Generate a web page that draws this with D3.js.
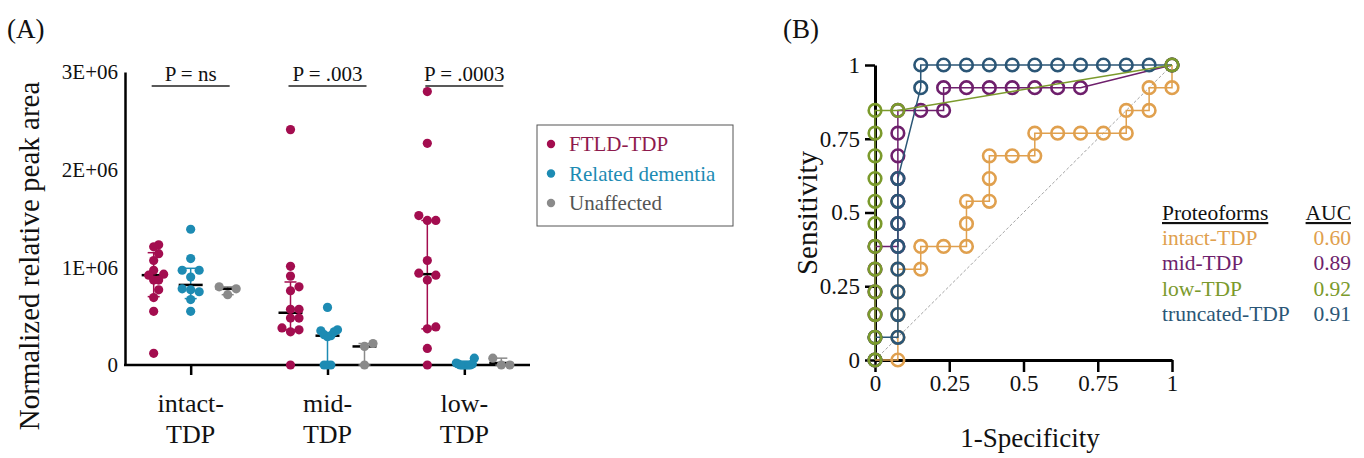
<!DOCTYPE html>
<html lang="en">
<head>
<meta charset="UTF-8">
<title>TDP proteoforms</title>
<script src="https://d3js.org/d3.v7.min.js"></script>
<style>
    body { margin: 0; background: #fff; }
    svg text { font-family: "Liberation Serif", "Times New Roman", serif; }
</style>
</head>
<body>
<svg id="chart" width="1364" height="458"></svg>
<script>
// ---- panel A data (normalized relative peak area) ----
const categories = ["intact", "mid", "low"];
const groups = ["FTLD-TDP", "Related dementia", "Unaffected"];
const groupColors = ["#a30d4f", "#1d8bb3", "#8a8a8a"];
const groupTextColors = ["#8e1a4d", "#1d8bb3", "#555555"];

const intactFtld = [1.23e6, 1.21e6, 1.14e6, 1.07e6, 0.97e6, 0.93e6, 0.92e6, 0.87e6, 0.87e6, 0.77e6, 0.69e6, 0.55e6, 0.12e6];
const intactRelated = [1.39e6, 1.09e6, 0.97e6, 0.97e6, 0.90e6, 0.78e6, 0.77e6, 0.75e6, 0.67e6, 0.55e6];
const intactUnaffected = [0.80e6, 0.78e6, 0.72e6];
const midFtld = [2.41e6, 1.01e6, 0.91e6, 0.80e6, 0.76e6, 0.57e6, 0.57e6, 0.48e6, 0.48e6, 0.38e6, 0.36e6, 0.34e6, 0];
const midRelated = [0.59e6, 0.36e6, 0.35e6, 0.34e6, 0.31e6, 0.30e6, 0.29e6, 0, 0, 0];
const midUnaffected = [0.22e6, 0.19e6, 0];
const lowFtld = [2.80e6, 2.27e6, 1.53e6, 1.48e6, 1.48e6, 1.07e6, 0.94e6, 0.92e6, 0.87e6, 0.39e6, 0.37e6, 0.17e6, 0];
const lowRelated = [0.07e6, 0.02e6, 0.01e6, 0.01e6, 0, 0, 0, 0, 0, 0];
const lowUnaffected = [0.07e6, 0, 0];

// median and interquartile range, same order as the columns
const medians = [0.92e6, 0.82e6, 0.78e6, 0.535e6, 0.30e6, 0.19e6, 0.93e6, 0.005e6, 0.02e6];
const q1s = [0.70e6, 0.68e6, 0.72e6, 0.36e6, 0, 0, 0.37e6, 0, 0];
const q3s = [1.15e6, 0.99e6, 0.80e6, 0.85e6, 0.33e6, 0.22e6, 1.48e6, 0.02e6, 0.07e6];

const pLabels = ["P = ns", "P = .003", "P = .0003"];
const yTicksA = [0, 1e6, 2e6, 3e6];

// ---- panel B data (ROC: 1-specificity, sensitivity) ----
const rocNames = ["intact-TDP", "mid-TDP", "low-TDP", "truncated-TDP"];
const rocAuc = ["0.60", "0.89", "0.92", "0.91"];
const rocColors = ["#e0a04e", "#6e1f6c", "#7b9a2c", "#2b5676"];

const intactFpr = [0, .077, .077, .077, .077, .077, .154, .154, .231, .308, .308, .308, .385, .385, .385, .462, .538, .538, .615, .692, .769, .846, .846, .923, .923, 1, 1];
const intactTpr = [0, 0, .077, .154, .231, .308, .308, .385, .385, .385, .462, .538, .538, .615, .692, .692, .692, .769, .769, .769, .769, .769, .846, .846, .923, .923, 1];
const midFpr = [0, 0, 0, 0, 0, 0, .077, .077, .077, .077, .077, .077, .077, .154, .231, .231, .308, .385, .462, .538, .615, .692, 1];
const midTpr = [0, .077, .154, .231, .308, .385, .385, .462, .538, .615, .692, .769, .846, .846, .846, .923, .923, .923, .923, .923, .923, .923, 1];
const lowFpr = [0, 0, 0, 0, 0, 0, 0, 0, 0, 0, 0, 0, .077, 1];
const lowTpr = [0, .077, .154, .231, .308, .385, .462, .538, .615, .692, .769, .846, .846, 1];
const truncFpr = [0, 0, .077, .077, .077, .077, .077, .077, .077, .077, .154, .154, .231, .308, .385, .462, .538, .615, .692, .769, .846, .923, 1];
const truncTpr = [0, .077, .077, .154, .231, .308, .385, .462, .538, .615, .923, 1, 1, 1, 1, 1, 1, 1, 1, 1, 1, 1, 1];
const rocTicks = [0, 0.25, 0.5, 0.75, 1];

const svg = d3.select("#chart");

// ================= panel A =================
const columns = [
    [intactFtld, intactRelated, intactUnaffected],
    [midFtld, midRelated, midUnaffected],
    [lowFtld, lowRelated, lowUnaffected]
];

const xA = d3.scalePoint().domain(categories).range([125, 530]).padding(0.48);
const groupOffset = d3.scalePoint().domain(groups).range([-37, 37]);
const yA = d3.scaleLinear().domain([0, 3e6]).range([365, 72]);

const gA = svg.append("g");

// y axis
gA.append("g")
    .attr("transform", "translate(125,0)")
    .call(d3.axisLeft(yA).tickValues(yTicksA).tickSize(0).tickSizeOuter(0).tickPadding(7)
        .tickFormat(d => d === 0 ? "0" : (d / 1e6) + "E+06"))
    .call(g => g.select(".domain").attr("stroke-width", 2.5))
    .selectAll("text")
    .style("font-size", "21px")
    .attr("fill", "#111");

// x axis
gA.append("g")
    .attr("transform", "translate(0,365)")
    .call(d3.axisBottom(xA).tickSize(10).tickSizeOuter(0).tickFormat(""))
    .call(g => g.select(".domain").attr("stroke-width", 2.5).attr("d", "M124,0H530"))
    .call(g => g.selectAll(".tick line").attr("stroke-width", 2.5));

categories.forEach(c => {
    const t = gA.append("text")
        .attr("x", xA(c))
        .attr("text-anchor", "middle")
        .style("font-size", "26px")
        .attr("fill", "#111");
    t.append("tspan").attr("x", xA(c)).attr("y", 412).text(c + "-");
    t.append("tspan").attr("x", xA(c)).attr("y", 443).text("TDP");
});

gA.append("text")
    .attr("transform", "translate(39,256) rotate(-90)")
    .attr("text-anchor", "middle")
    .style("font-size", "29px")
    .attr("fill", "#111")
    .text("Normalized relative peak area");

// significance bars
categories.forEach((c, i) => {
    const x0 = xA(c) + groupOffset(groups[0]) - 2;
    const x1 = xA(c) + groupOffset(groups[2]) + 2;
    gA.append("line")
        .attr("x1", x0).attr("x2", x1)
        .attr("y1", 86).attr("y2", 86)
        .attr("stroke", "#222").attr("stroke-width", 1.5);
    gA.append("text")
        .attr("x", (x0 + x1) / 2).attr("y", 81)
        .attr("text-anchor", "middle")
        .style("font-size", "21px")
        .attr("fill", "#111")
        .text(pLabels[i]);
});

// simple beeswarm so that dots with equal values sit side by side
function swarm(values, r, step, maxSpread) {
    const order = d3.range(values.length).sort((a, b) => values[a] - values[b]);
    const placed = [];
    const offsets = new Array(values.length).fill(0);
    order.forEach(i => {
        const y = yA(values[i]);
        for (let k = 0; k < 40; k++) {
            const dx = k === 0 ? 0 : Math.ceil(k / 2) * step * (k % 2 ? 1 : -1);
            const hit = placed.some(p => (p.x - dx) ** 2 + (p.y - y) ** 2 < (2 * r - 1) ** 2);
            if (!hit) {
                placed.push({ x: dx, y: y });
                offsets[i] = dx;
                break;
            }
        }
    });
    const widest = d3.max(offsets, Math.abs);
    const k = widest > maxSpread ? maxSpread / widest : 1;
    return offsets.map(o => o * k);
}

columns.forEach((col, ci) => {
    col.forEach((vals, gi) => {
        const idx = ci * 3 + gi;
        const cx = xA(categories[ci]) + groupOffset(groups[gi]);
        const color = groupColors[gi];
        // IQR bar with caps
        gA.append("line")
            .attr("x1", cx).attr("x2", cx)
            .attr("y1", yA(q1s[idx])).attr("y2", yA(q3s[idx]))
            .attr("stroke", color).attr("stroke-width", 1.5);
        [q1s[idx], q3s[idx]].forEach(q => {
            gA.append("line")
                .attr("x1", cx - 6).attr("x2", cx + 6)
                .attr("y1", yA(q)).attr("y2", yA(q))
                .attr("stroke", color).attr("stroke-width", 1.5);
        });
        // median
        gA.append("line")
            .attr("x1", cx - 12).attr("x2", cx + 12)
            .attr("y1", yA(medians[idx])).attr("y2", yA(medians[idx]))
            .attr("stroke", "#000").attr("stroke-width", 2.5);

        const offs = swarm(vals, 4.5, 8.5, 10);
        gA.selectAll(null)
            .data(vals)
            .enter().append("circle")
            .attr("cx", (d, i) => cx + offs[i])
            .attr("cy", d => yA(d))
            .attr("r", 4.6)
            .attr("fill", color);
    });
});

// legend box
const legA = gA.append("g").attr("transform", "translate(537,125)");
legA.append("rect")
    .attr("width", 196).attr("height", 101)
    .attr("fill", "none").attr("stroke", "#555").attr("stroke-width", 1);
groups.forEach((g, i) => {
    legA.append("circle")
        .attr("cx", 14).attr("cy", 19 + i * 29.5).attr("r", 4.2)
        .attr("fill", groupColors[i]);
    legA.append("text")
        .attr("x", 32).attr("y", 26 + i * 29.5)
        .style("font-size", "21px")
        .attr("fill", groupTextColors[i])
        .text(g);
});

svg.append("text").attr("x", 7).attr("y", 38)
    .style("font-size", "27px").attr("fill", "#111").text("(A)");

// ================= panel B =================
const xB = d3.scaleLinear().domain([0, 1]).range([875, 1172]);
const yB = d3.scaleLinear().domain([0, 1]).range([360, 65]);
const gB = svg.append("g");

// reference diagonal
gB.append("line")
    .attr("x1", xB(0)).attr("y1", yB(0))
    .attr("x2", xB(1)).attr("y2", yB(1))
    .attr("stroke", "#999").attr("stroke-width", 0.9)
    .attr("stroke-dasharray", "3,2");

gB.append("g")
    .attr("transform", "translate(875,0)")
    .call(d3.axisLeft(yB).tickValues(rocTicks).tickSize(10).tickSizeOuter(0).tickPadding(5)
        .tickFormat(d => String(d)))
    .call(g => g.select(".domain").attr("stroke-width", 3))
    .call(g => g.selectAll(".tick line").attr("stroke-width", 2.5))
    .selectAll("text")
    .style("font-size", "23px")
    .attr("fill", "#111");

gB.append("g")
    .attr("transform", "translate(0,360)")
    .call(d3.axisBottom(xB).tickValues(rocTicks).tickSize(12).tickSizeOuter(0).tickPadding(3)
        .tickFormat(d => String(d)))
    .call(g => g.select(".domain").attr("stroke-width", 3))
    .call(g => g.selectAll(".tick line").attr("stroke-width", 2.5))
    .selectAll("text")
    .style("font-size", "23px")
    .attr("fill", "#111");

const rocSeries = [
    [intactFpr, intactTpr],
    [midFpr, midTpr],
    [truncFpr, truncTpr],
    [lowFpr, lowTpr]
];
const rocColorOrder = [rocColors[0], rocColors[1], rocColors[3], rocColors[2]];

const line = d3.line().x(d => xB(d[0])).y(d => yB(d[1]));

rocSeries.forEach(([fpr, tpr], i) => {
    const pts = fpr.map((f, j) => [f, tpr[j]]);
    gB.append("path")
        .datum(pts)
        .attr("d", line)
        .attr("fill", "none")
        .attr("stroke", rocColorOrder[i])
        .attr("stroke-width", 1.5);
    gB.selectAll(null)
        .data(pts)
        .enter().append("circle")
        .attr("cx", d => xB(d[0]))
        .attr("cy", d => yB(d[1]))
        .attr("r", 6.3)
        .attr("fill", "none")
        .attr("stroke", rocColorOrder[i])
        .attr("stroke-width", 2.6);
});

gB.append("text")
    .attr("transform", "translate(817,213) rotate(-90)")
    .attr("text-anchor", "middle")
    .style("font-size", "29px").attr("fill", "#111")
    .text("Sensitivity");

gB.append("text")
    .attr("x", 1030).attr("y", 447)
    .attr("text-anchor", "middle")
    .style("font-size", "27px").attr("fill", "#111")
    .text("1-Specificity");

// AUC table
const tbl = gB.append("g");
tbl.append("text").attr("x", 1162).attr("y", 220)
    .style("font-size", "21.5px").attr("fill", "#111")
    .attr("text-decoration", "underline").text("Proteoforms");
tbl.append("text").attr("x", 1351).attr("y", 220).attr("text-anchor", "end")
    .style("font-size", "21.5px").attr("fill", "#111")
    .attr("text-decoration", "underline").text("AUC");
rocNames.forEach((n, i) => {
    tbl.append("text").attr("x", 1162).attr("y", 245 + i * 25.3)
        .style("font-size", "21.5px").attr("fill", rocColors[i]).text(n);
    tbl.append("text").attr("x", 1351).attr("y", 245 + i * 25.3).attr("text-anchor", "end")
        .style("font-size", "21.5px").attr("fill", rocColors[i]).text(rocAuc[i]);
});

svg.append("text").attr("x", 783).attr("y", 38)
    .style("font-size", "27px").attr("fill", "#111").text("(B)");
</script>
</body>
</html>
